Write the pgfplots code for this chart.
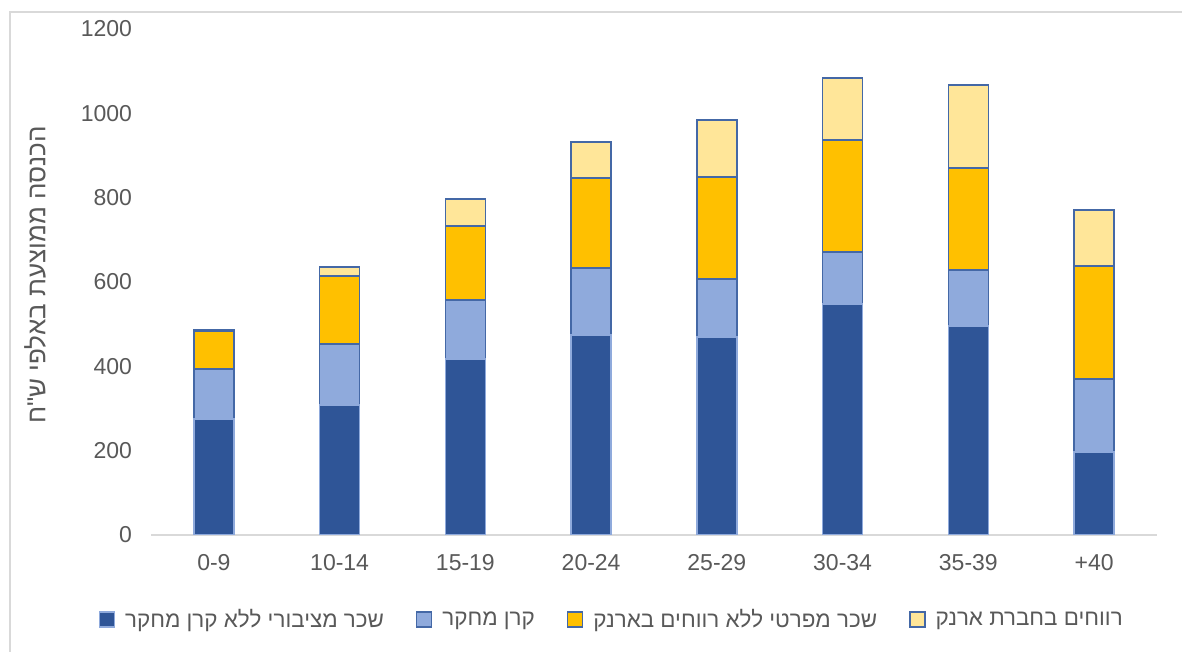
\documentclass[border=0pt]{standalone}
\usepackage{pgfplots}
\pgfplotsset{compat=1.18}
\usepackage{fontspec}
\setmainfont{Liberation Sans}
\newfontfamily\heb[Script=Hebrew]{Liberation Sans}
\TeXXeTstate=1
\definecolor{cdark}{RGB}{47,85,151}
\definecolor{clight}{RGB}{143,170,220}
\definecolor{corange}{RGB}{255,192,0}
\definecolor{cyellow}{RGB}{255,230,153}
\definecolor{cedge}{RGB}{68,104,166}
\definecolor{ctext}{RGB}{89,89,89}
\begin{document}
\begin{tikzpicture}
\useasboundingbox (0,0) rectangle (591pt,326pt);
\fill[white] (0,0) rectangle (591pt,326pt);
\draw[black!15, line width=1pt] (5pt,-5pt) -- (5pt,320pt) -- (600pt,320pt);
\begin{axis}[
  at={(75.5pt,58.5pt)}, anchor=south west,
  scale only axis, width=503pt, height=253pt,
  ybar stacked, bar width=20pt,
  xmin=-0.5, xmax=7.5, ymin=0, ymax=1200,
  xtick=data,
  xticklabels={0-9,10-14,15-19,20-24,25-29,30-34,35-39,+40},
  ytick={0,200,400,600,800,1000,1200},
  axis x line*=bottom, axis y line*=left,
  x axis line style={black!15, line width=1pt},
  y axis line style={draw=none},
  major tick length=0pt,
  tick label style={font=\fontsize{11.5}{13}\selectfont, text=ctext},
  /pgf/number format/assume math mode=true,
  /pgf/number format/1000 sep={},
  yticklabel style={xshift=-6pt},
  xticklabel style={yshift=-6pt},
  ylabel={\heb\beginR הכנסה ממוצעת באלפי ש"ח\endR},
  every axis y label/.style={at={(axis description cs:0,0.5)}, rotate=90, anchor=center, yshift=58pt, xshift=3.5pt, font=\fontsize{13}{15}\selectfont, text=ctext},
  legend columns=4,
  legend style={at={(0.459,-0.168)}, anchor=center, draw=none, fill=none,
    font=\fontsize{11.2}{13}\selectfont, text=ctext,
    /tikz/every odd column/.append style={column sep=3pt},
    /tikz/every even column/.append style={column sep=14pt}},
  legend image code/.code={\fill[#1] (0pt,-3.5pt) rectangle (7.5pt,4pt);},
  every axis plot/.append style={draw=cedge, line width=0.7pt},
]
\addplot[fill=cdark, draw=clight] coordinates {(0,275) (1,308) (2,417) (3,474) (4,470) (5,548) (6,496) (7,197)};
\addplot[fill=clight] coordinates {(0,119) (1,145) (2,140) (3,159) (4,137) (5,123) (6,132) (7,173)};
\addplot[fill=corange] coordinates {(0,90) (1,161) (2,176) (3,214) (4,242) (5,266) (6,242) (7,268)};
\addplot[fill=cyellow] coordinates {(0,4) (1,22) (2,64) (3,85) (4,135) (5,147) (6,197) (7,133)};
\legend{{\heb\beginR שכר מציבורי ללא קרן מחקר\endR},{\heb\beginR קרן מחקר\endR},{\heb\beginR שכר מפרטי ללא רווחים בארנק\endR},{\heb\beginR רווחים בחברת ארנק\endR}}
\end{axis}
\end{tikzpicture}
\end{document}
